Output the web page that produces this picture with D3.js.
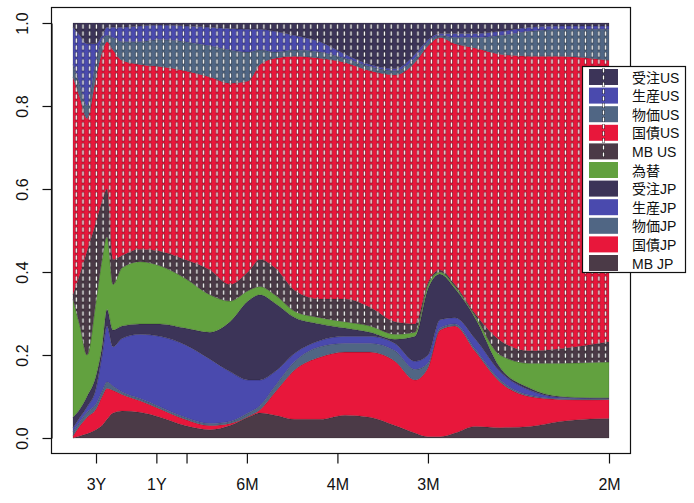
<!DOCTYPE html>
<html><head><meta charset="utf-8">
<script src="https://cdn.jsdelivr.net/npm/d3@7"></script>
<style>
body{margin:0;background:#fff}
text{font-family:"Liberation Sans",Arial,"Noto Sans CJK JP",sans-serif}
</style>
</head><body>
<svg id="c" width="694" height="503"></svg>
<script>
// frequency (cycles per month)
const freq = [0.0066,0.0130,0.0195,0.0278,0.0333,0.0379,0.0434,0.0517,0.0683,0.0867,0.1097,0.1327,0.1511,0.1677,0.1787,0.1925,0.2110,0.2340,0.2570,0.2800,0.3030,0.3214,0.3334,0.3444,0.3582,0.3766,0.3997,0.4273,0.4549,0.4825,0.5000];

const tickFreq = [1/36, 1/12, 1/9, 1/6, 1/4, 1/3, 1/2];
const tickLabels = ["3Y","1Y","","6M","4M","3M","2M"];
const yTicks = [0, 0.2, 0.4, 0.6, 0.8, 1.0];

const seriesNames = ["MB JP","国債JP","物価JP","生産JP","受注JP","為替","MB US","国債US","物価US","生産US","受注US"];

const mbJP    = [0,.005,.01,.02,.03,.045,.06,.065,.062,.05,.03,.02,.03,.05,.06,.055,.045,.045,.055,.05,.03,.012,.003,.003,.012,.028,.025,.028,.04,.046,.047];
const bondJP  = [.005,.025,.04,.05,.07,.075,.055,.04,.028,.02,.015,.01,.005,.002,.008,.055,.12,.15,.152,.157,.155,.128,.167,.257,.258,.182,.11,.072,.053,.046,.046];
const priceJP = [.01,.01,.012,.012,.012,.015,.01,.006,.005,.005,.005,.005,.005,.008,.01,.015,.02,.025,.021,.021,.025,.025,.01,.005,.005,.005,.005,.003,.002,.002,.002];
const prodJP  = [.01,.01,.013,.038,.088,.135,.095,.129,.155,.17,.175,.155,.12,.08,.062,.035,.02,.015,.017,.017,.018,.02,.02,.02,.015,.025,.02,.012,.003,.002,.001];
const orderJP = [.025,.02,.025,.03,.02,.04,.04,.03,.025,.03,.04,.065,.12,.19,.205,.165,.085,.04,.02,.01,.01,.06,.16,.11,.07,.05,.01,.005,.002,.001,.001];
const fx      = [.285,.20,.10,.18,.21,.175,.11,.14,.15,.14,.12,.09,.05,.025,.02,.02,.015,.015,.015,.015,.012,.01,.01,.005,.005,.005,.03,.06,.08,.085,.086];
const mbUS    = [.01,.125,.25,.19,.14,.115,.06,.03,.03,.035,.045,.06,.04,.045,.065,.065,.05,.045,.055,.045,.03,.02,.005,.005,.005,.005,.035,.03,.035,.043,.049];
const bondUS  = [.525,.425,.32,.35,.36,.355,.505,.47,.445,.445,.455,.465,.485,.46,.47,.505,.565,.58,.57,.57,.595,.63,.57,.56,.58,.64,.69,.71,.705,.69,.678];
const priceUS = [.03,.03,.03,.04,.03,.015,.03,.045,.055,.065,.07,.075,.08,.07,.035,.015,.015,.015,.01,.01,.01,.01,.01,.005,.015,.025,.045,.06,.065,.07,.075];
const prodUS  = [.09,.12,.15,.04,.01,.02,.025,.035,.038,.035,.038,.045,.052,.055,.05,.05,.035,.025,.01,.005,.005,.01,.005,.005,.01,.01,.01,.01,.008,.008,.008];
const orderUS = [.01,.03,.05,.05,.03,.01,.01,.01,.007,.005,.007,.01,.013,.015,.015,.02,.03,.045,.075,.10,.11,.075,.04,.025,.025,.025,.02,.01,.007,.007,.007];

const seriesValues = [mbJP, bondJP, priceJP, prodJP, orderJP, fx, mbUS, bondUS, priceUS, prodUS, orderUS];
const seriesColors = ["#4b3a47","#e8173b","#506684","#4a4aae","#3c3458","#62a13f","#4b3a47","#e8173b","#506684","#4a4aae","#3c3458"];
const hatched = [false,false,false,false,false,false,true,true,true,true,true];

const svg = d3.select("#c");
const x = d3.scaleLinear().domain([freq[0], 0.5]).range([73, 609]);
const y = d3.scaleLinear().domain([0, 1]).range([438, 23]);

const table = freq.map((f, i) => {
  const o = {f};
  seriesNames.forEach((k, j) => o[k] = seriesValues[j][i]);
  return o;
});
const stacked = d3.stack().keys(seriesNames).offset(d3.stackOffsetExpand)(table);

const defs = svg.append("defs");
seriesNames.forEach((k, j) => {
  if (!hatched[j]) return;
  const p = defs.append("pattern").attr("id", "pat" + j)
    .attr("patternUnits", "userSpaceOnUse")
    .attr("x", 73).attr("y", 23).attr("width", 6.7).attr("height", 7);
  p.append("rect").attr("width", 6.7).attr("height", 7).attr("fill", seriesColors[j]);
  p.append("rect").attr("x", 1.9).attr("y", 0.8).attr("width", 2.8).attr("height", 5.6).attr("fill", "rgba(0,0,0,0.45)");
  p.append("rect").attr("x", 2.6).attr("y", 1.4).attr("width", 1.4).attr("height", 4.3).attr("fill", "#fff");
});

const area = d3.area()
  .x(d => x(d.data.f))
  .y0(d => y(d[0]))
  .y1(d => y(d[1]))
  .curve(d3.curveMonotoneX);

svg.append("g").selectAll("path").data(stacked).join("path")
  .attr("d", area)
  .attr("fill", (d, j) => hatched[j] ? `url(#pat${j})` : seriesColors[j])
  .attr("stroke", "rgba(20,10,20,0.35)")
  .attr("stroke-width", 0.5);

// box
svg.append("rect").attr("x", 51.5).attr("y", 7.5).attr("width", 579).attr("height", 446)
  .attr("fill", "none").attr("stroke", "#111").attr("stroke-width", 1.2);

// y axis
const gy = svg.append("g").attr("transform", "translate(51.5,0)")
  .call(d3.axisLeft(y).tickValues(yTicks).tickFormat(d3.format(".1f")).tickSize(9).tickSizeOuter(0));
gy.select(".domain").attr("stroke", "#111").attr("stroke-width", 1.2);
gy.selectAll(".tick line").attr("stroke", "#111").attr("stroke-width", 1.2);
gy.selectAll(".tick text")
  .attr("transform", "rotate(-90)")
  .attr("x", 0).attr("y", -24).attr("dy", 0)
  .attr("text-anchor", "middle")
  .attr("font-size", 16).attr("fill", "#111")
  .style("font-family", '"Liberation Sans",Arial,sans-serif');

// x axis
const gx = svg.append("g").attr("transform", "translate(0,453.5)")
  .call(d3.axisBottom(x).tickValues(tickFreq).tickFormat((d, i) => tickLabels[i]).tickSize(10).tickSizeOuter(0));
gx.select(".domain").remove();
gx.selectAll(".tick line").attr("stroke", "#111").attr("stroke-width", 1.2);
gx.selectAll(".tick text")
  .attr("y", 25).attr("dy", "0.71em")
  .attr("font-size", 16).attr("fill", "#111")
  .style("font-family", '"Liberation Sans",Arial,sans-serif');

// legend
const legendOrder = d3.range(seriesNames.length).reverse();
const lg = svg.append("g");
lg.append("rect").attr("x", 582.5).attr("y", 66.5).attr("width", 103).attr("height", 206)
  .attr("fill", "#fff").attr("stroke", "#111").attr("stroke-width", 1.2);
const step = 18.6;
legendOrder.forEach((j, i) => {
  lg.append("rect").attr("x", 589).attr("y", 69 + i * step).attr("width", 29).attr("height", 16)
    .attr("fill", seriesColors[j]);
  lg.append("text").attr("x", 632).attr("y", 69 + i * step + 13.5)
    .attr("font-size", 14).attr("fill", "#111").text(seriesNames[j]);
});
const nHatch = hatched.filter(Boolean).length;
lg.append("line").attr("x1", 603.5).attr("x2", 603.5).attr("y1", 68).attr("y2", 69 + nHatch * step - 4)
  .attr("stroke", "rgba(0,0,0,0.5)").attr("stroke-width", 3).attr("stroke-dasharray", "5,2");
lg.append("line").attr("x1", 603.5).attr("x2", 603.5).attr("y1", 68.5).attr("y2", 69 + nHatch * step - 4.5)
  .attr("stroke", "#fff").attr("stroke-width", 1.4).attr("stroke-dasharray", "4,3");
</script>
</body></html>
